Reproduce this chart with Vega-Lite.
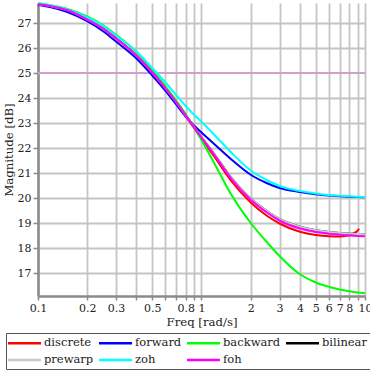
{
  "$schema": "https://vega.github.io/schema/vega-lite/v6.json",
  "width": 327,
  "height": 293,
  "autosize": "none",
  "padding": {"left": 38, "top": 3, "right": 5, "bottom": 74},
  "background": "white",
  "config": {
    "font": "DejaVu Serif",
    "view": {"stroke": null},
    "axis": {
      "labelFont": "DejaVu Serif", "labelFontSize": 11, "labelColor": "#222",
      "titleFont": "DejaVu Serif", "titleFontSize": 11.7, "titleFontWeight": "normal", "titleColor": "#222",
      "domainColor": "#8a8a8a", "domainWidth": 2.5,
      "tickColor": "#8a8a8a", "tickWidth": 1.5,
      "gridColor": "#c4c4c4", "gridWidth": 1.8, "gridOpacity": 1
    }
  },
  "resolve": {"axis": {"y": "independent"}},
  "data": {
    "values": [
      {"s":"discrete","f":0.1,"m":27.75},{"s":"discrete","f":0.12,"m":27.67},{"s":"discrete","f":0.15,"m":27.52},{"s":"discrete","f":0.2,"m":27.14},{"s":"discrete","f":0.25,"m":26.78},{"s":"discrete","f":0.3,"m":26.39},{"s":"discrete","f":0.4,"m":25.7},{"s":"discrete","f":0.5,"m":25.02},{"s":"discrete","f":0.6,"m":24.4},{"s":"discrete","f":0.7,"m":23.82},{"s":"discrete","f":0.8,"m":23.29},{"s":"discrete","f":0.9,"m":22.8},{"s":"discrete","f":1,"m":22.37},{"s":"discrete","f":1.2,"m":21.65},{"s":"discrete","f":1.5,"m":20.73},{"s":"discrete","f":2,"m":19.82},{"s":"discrete","f":2.5,"m":19.3},{"s":"discrete","f":3,"m":18.98},{"s":"discrete","f":4,"m":18.65},{"s":"discrete","f":5,"m":18.52},{"s":"discrete","f":6,"m":18.47},{"s":"discrete","f":7,"m":18.46},{"s":"discrete","f":7.7,"m":18.49},{"s":"discrete","f":8.2,"m":18.54},{"s":"discrete","f":8.6,"m":18.6},{"s":"discrete","f":8.9,"m":18.66},{"s":"discrete","f":9.2,"m":18.77},

      {"s":"forward","f":0.1,"m":27.72},{"s":"forward","f":0.12,"m":27.63},{"s":"forward","f":0.15,"m":27.45},{"s":"forward","f":0.2,"m":27.07},{"s":"forward","f":0.25,"m":26.67},{"s":"forward","f":0.3,"m":26.26},{"s":"forward","f":0.4,"m":25.58},{"s":"forward","f":0.5,"m":24.9},{"s":"forward","f":0.6,"m":24.3},{"s":"forward","f":0.7,"m":23.74},{"s":"forward","f":0.8,"m":23.26},{"s":"forward","f":0.9,"m":22.9},{"s":"forward","f":1,"m":22.62},{"s":"forward","f":1.2,"m":22.15},{"s":"forward","f":1.5,"m":21.58},{"s":"forward","f":2,"m":20.93},{"s":"forward","f":2.5,"m":20.6},{"s":"forward","f":3,"m":20.4},{"s":"forward","f":4,"m":20.24},{"s":"forward","f":5,"m":20.15},{"s":"forward","f":6,"m":20.1},{"s":"forward","f":7,"m":20.07},{"s":"forward","f":8,"m":20.05},{"s":"forward","f":9,"m":20.04},{"s":"forward","f":10,"m":20.03},

      {"s":"backward","f":0.1,"m":27.79},{"s":"backward","f":0.12,"m":27.71},{"s":"backward","f":0.15,"m":27.57},{"s":"backward","f":0.2,"m":27.26},{"s":"backward","f":0.25,"m":26.91},{"s":"backward","f":0.3,"m":26.53},{"s":"backward","f":0.4,"m":25.84},{"s":"backward","f":0.5,"m":25.12},{"s":"backward","f":0.6,"m":24.48},{"s":"backward","f":0.7,"m":23.9},{"s":"backward","f":0.8,"m":23.36},{"s":"backward","f":0.9,"m":22.83},{"s":"backward","f":1,"m":22.32},{"s":"backward","f":1.2,"m":21.38},{"s":"backward","f":1.5,"m":20.2},{"s":"backward","f":2,"m":19.0},{"s":"backward","f":2.5,"m":18.25},{"s":"backward","f":3,"m":17.68},{"s":"backward","f":4,"m":16.95},{"s":"backward","f":5,"m":16.62},{"s":"backward","f":6,"m":16.45},{"s":"backward","f":7,"m":16.34},{"s":"backward","f":8,"m":16.27},{"s":"backward","f":9,"m":16.22},{"s":"backward","f":10,"m":16.19},

      {"s":"bilinear","f":0.1,"m":27.75},{"s":"bilinear","f":0.12,"m":27.67},{"s":"bilinear","f":0.15,"m":27.52},{"s":"bilinear","f":0.2,"m":27.14},{"s":"bilinear","f":0.25,"m":26.78},{"s":"bilinear","f":0.3,"m":26.39},{"s":"bilinear","f":0.4,"m":25.7},{"s":"bilinear","f":0.5,"m":25.02},{"s":"bilinear","f":0.6,"m":24.4},{"s":"bilinear","f":0.7,"m":23.83},{"s":"bilinear","f":0.8,"m":23.3},{"s":"bilinear","f":0.9,"m":22.85},{"s":"bilinear","f":1,"m":22.44},{"s":"bilinear","f":1.2,"m":21.75},{"s":"bilinear","f":1.5,"m":20.87},{"s":"bilinear","f":2,"m":19.98},{"s":"bilinear","f":2.5,"m":19.49},{"s":"bilinear","f":3,"m":19.16},{"s":"bilinear","f":4,"m":18.85},{"s":"bilinear","f":5,"m":18.71},{"s":"bilinear","f":6,"m":18.64},{"s":"bilinear","f":7,"m":18.6},{"s":"bilinear","f":8,"m":18.58},{"s":"bilinear","f":9,"m":18.56},{"s":"bilinear","f":10,"m":18.55},

      {"s":"prewarp","f":0.1,"m":27.75},{"s":"prewarp","f":0.12,"m":27.67},{"s":"prewarp","f":0.15,"m":27.52},{"s":"prewarp","f":0.2,"m":27.14},{"s":"prewarp","f":0.25,"m":26.78},{"s":"prewarp","f":0.3,"m":26.39},{"s":"prewarp","f":0.4,"m":25.7},{"s":"prewarp","f":0.5,"m":25.02},{"s":"prewarp","f":0.6,"m":24.4},{"s":"prewarp","f":0.7,"m":23.83},{"s":"prewarp","f":0.8,"m":23.3},{"s":"prewarp","f":0.9,"m":22.85},{"s":"prewarp","f":1,"m":22.44},{"s":"prewarp","f":1.2,"m":21.75},{"s":"prewarp","f":1.5,"m":20.87},{"s":"prewarp","f":2,"m":19.98},{"s":"prewarp","f":2.5,"m":19.49},{"s":"prewarp","f":3,"m":19.16},{"s":"prewarp","f":4,"m":18.85},{"s":"prewarp","f":5,"m":18.71},{"s":"prewarp","f":6,"m":18.64},{"s":"prewarp","f":7,"m":18.6},{"s":"prewarp","f":8,"m":18.58},{"s":"prewarp","f":9,"m":18.56},{"s":"prewarp","f":10,"m":18.55},

      {"s":"zoh","f":0.1,"m":27.78},{"s":"zoh","f":0.12,"m":27.7},{"s":"zoh","f":0.15,"m":27.55},{"s":"zoh","f":0.2,"m":27.23},{"s":"zoh","f":0.25,"m":26.88},{"s":"zoh","f":0.3,"m":26.5},{"s":"zoh","f":0.4,"m":25.86},{"s":"zoh","f":0.5,"m":25.2},{"s":"zoh","f":0.6,"m":24.63},{"s":"zoh","f":0.7,"m":24.12},{"s":"zoh","f":0.8,"m":23.68},{"s":"zoh","f":0.9,"m":23.33},{"s":"zoh","f":1,"m":23.05},{"s":"zoh","f":1.2,"m":22.52},{"s":"zoh","f":1.5,"m":21.86},{"s":"zoh","f":2,"m":21.1},{"s":"zoh","f":2.5,"m":20.72},{"s":"zoh","f":3,"m":20.48},{"s":"zoh","f":4,"m":20.28},{"s":"zoh","f":5,"m":20.18},{"s":"zoh","f":6,"m":20.12},{"s":"zoh","f":7,"m":20.09},{"s":"zoh","f":8,"m":20.07},{"s":"zoh","f":9,"m":20.05},{"s":"zoh","f":10,"m":20.04},

      {"s":"foh","f":0.1,"m":27.75},{"s":"foh","f":0.12,"m":27.67},{"s":"foh","f":0.15,"m":27.52},{"s":"foh","f":0.2,"m":27.14},{"s":"foh","f":0.25,"m":26.78},{"s":"foh","f":0.3,"m":26.39},{"s":"foh","f":0.4,"m":25.7},{"s":"foh","f":0.5,"m":25.02},{"s":"foh","f":0.6,"m":24.4},{"s":"foh","f":0.7,"m":23.83},{"s":"foh","f":0.8,"m":23.3},{"s":"foh","f":0.9,"m":22.84},{"s":"foh","f":1,"m":22.42},{"s":"foh","f":1.2,"m":21.72},{"s":"foh","f":1.5,"m":20.82},{"s":"foh","f":2,"m":19.93},{"s":"foh","f":2.5,"m":19.43},{"s":"foh","f":3,"m":19.1},{"s":"foh","f":4,"m":18.78},{"s":"foh","f":5,"m":18.64},{"s":"foh","f":6,"m":18.57},{"s":"foh","f":7,"m":18.53},{"s":"foh","f":8,"m":18.5},{"s":"foh","f":9,"m":18.48},{"s":"foh","f":10,"m":18.47}
    ]
  },
  "layer": [
    {
      "mark": {"type": "rule", "color": "#d29ed2", "strokeWidth": 1},
      "encoding": {
        "y": {
          "datum": 25, "type": "quantitative",
          "scale": {"domain": [16.08, 27.8], "nice": false, "zero": false},
          "axis": null
        }
      }
    },
    {
      "mark": {"type": "line", "strokeWidth": 2, "interpolate": "monotone"},
      "encoding": {
        "x": {
          "field": "f", "type": "quantitative",
          "scale": {"type": "log", "domain": [0.1, 10], "nice": false},
          "axis": {
            "title": "Freq [rad/s]",
            "values": [0.1,0.2,0.3,0.4,0.5,0.6,0.7,0.8,0.9,1,2,3,4,5,6,7,8,9,10],
            "format": "~g",
            "labelExpr": "indexof([0.4,0.6,0.7,0.9,9], datum.value) >= 0 ? '' : datum.label",
            "labelOverlap": false, "labelFlush": false,
            "tickSize": 4, "labelPadding": 2, "titlePadding": 3
          }
        },
        "y": {
          "field": "m", "type": "quantitative",
          "scale": {"domain": [16.08, 27.8], "nice": false, "zero": false},
          "axis": {
            "orient": "left",
            "grid": true,
            "title": "Magnitude [dB]",
            "values": [17,18,19,20,21,22,23,24,25,26,27],
            "labelOverlap": false,
            "tickSize": 5, "labelPadding": 2, "titlePadding": 3,
            "gridWidth": {"condition": {"test": "datum.value === 25", "value": 0}, "value": 1.8}
          }
        },
        "color": {
          "field": "s", "type": "nominal",
          "scale": {
            "domain": ["discrete","forward","backward","bilinear","prewarp","zoh","foh"],
            "range": ["#ff0000","#0000ff","#00ff00","#000000","#c8c8c8","#00ffff","#ff00ff"]
          },
          "legend": {
            "title": null,
            "orient": "none", "legendX": -32, "legendY": 330,
            "direction": "horizontal", "columns": 4,
            "strokeColor": "#555", "padding": 3,
            "symbolType": "M-3,0H3", "symbolSize": 121, "symbolStrokeWidth": 2.5, "symbolOffset": 8.5,
            "labelOffset": 12.5, "labelFont": "DejaVu Serif", "labelFontSize": 11.5, "labelColor": "#222",
            "columnPadding": 0, "rowPadding": 4
          }
        }
      }
    }
  ]
}
